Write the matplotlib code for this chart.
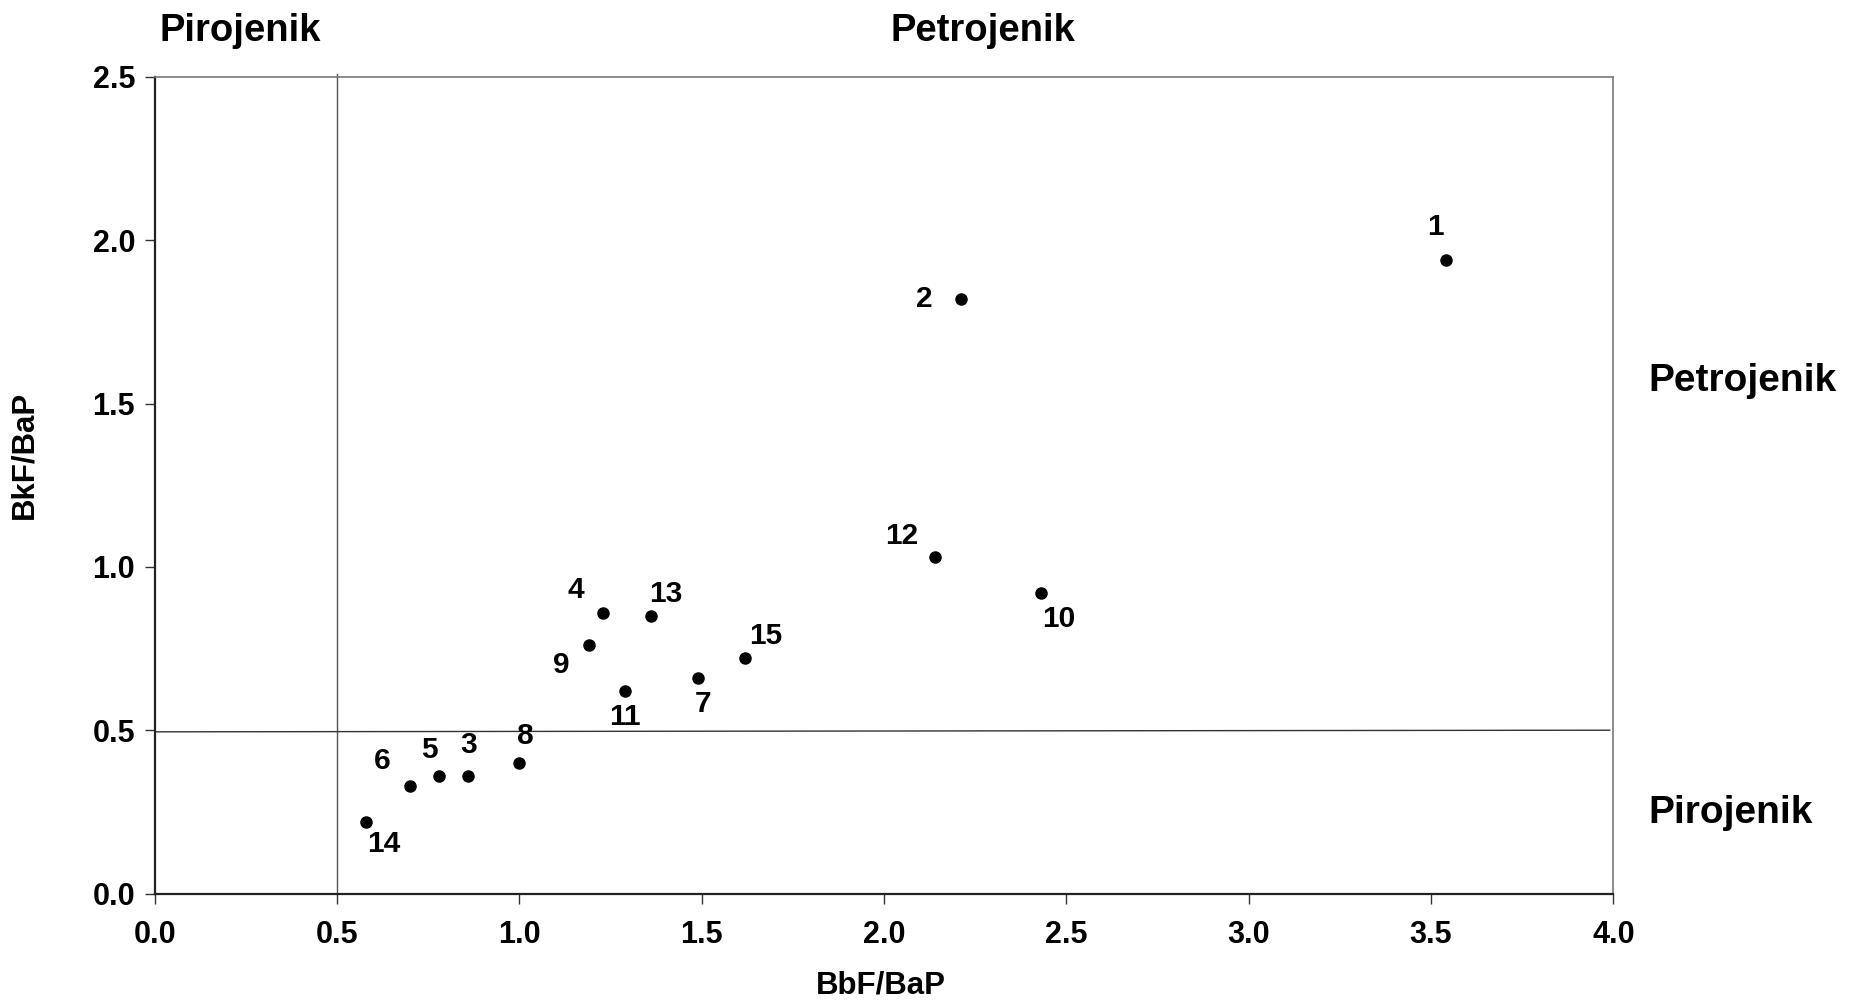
import matplotlib
matplotlib.use("Agg")
import matplotlib.pyplot as plt

# Sample ratios
sample_ids = ["1", "2", "3", "4", "5", "6", "7", "8", "9", "10", "11", "12", "13", "14", "15"]
bbf_bap = [3.54, 2.21, 0.86, 1.23, 0.78, 0.70, 1.49, 1.00, 1.19, 2.43, 1.29, 2.14, 1.36, 0.58, 1.62]
bkf_bap = [1.94, 1.82, 0.36, 0.86, 0.36, 0.33, 0.66, 0.40, 0.76, 0.92, 0.62, 1.03, 0.85, 0.22, 0.72]

# label offsets in points (dx, dy)
label_offsets = {
    "1": (-7, 24), "2": (-26, 0), "3": (0, 22), "4": (-20, 16), "5": (-7, 19),
    "6": (-20, 18), "7": (4, -19), "8": (4, 19), "9": (-20, -14), "10": (13, -19),
    "11": (0, -19), "12": (-24, 15), "13": (11, 16), "14": (13, -16), "15": (15, 16),
}

x_ticks = [0.0, 0.5, 1.0, 1.5, 2.0, 2.5, 3.0, 3.5, 4.0]
y_ticks = [0.0, 0.5, 1.0, 1.5, 2.0, 2.5]

narrow = ["Liberation Sans Narrow", "Liberation Sans", "DejaVu Sans"]
wide = ["Liberation Sans", "DejaVu Sans"]

fig = plt.figure(figsize=(18.63, 10.0), dpi=100)
ax = fig.add_axes([0.083, 0.1065, 0.783, 0.8165])

ax.set_xlim(0, 4.0)
ax.set_ylim(0, 2.5)

# threshold lines
ax.plot([0.5, 0.5], [0, 2.51], color="#555555", lw=1.0, clip_on=False, zorder=1)
ax.plot([0, 3.99], [0.495, 0.5], color="#333333", lw=1.0, zorder=1)

ax.scatter(bbf_bap, bkf_bap, s=64, color="black", zorder=3)

for sid, x, y in zip(sample_ids, bbf_bap, bkf_bap):
    dx, dy = label_offsets[sid]
    ax.annotate(sid, (x, y), xytext=(dx, dy), textcoords="offset points",
                ha="center", va="center", fontsize=21.5, fontweight="bold",
                family=wide)

ax.set_xticks(x_ticks)
ax.set_yticks(y_ticks)
ax.set_xticklabels([f"{v:.1f}" for v in x_ticks], family=narrow, fontsize=22, fontweight="bold")
ax.set_yticklabels([f"{v:.1f}" for v in y_ticks], family=narrow, fontsize=22, fontweight="bold")
ax.tick_params(direction="out", length=7, width=1.0, color="#333333")
ax.tick_params(axis="x", pad=12)
ax.tick_params(axis="y", pad=7)

for side in ["left", "bottom"]:
    ax.spines[side].set_color("#222222")
    ax.spines[side].set_linewidth(1.6)
for side in ["top", "right"]:
    ax.spines[side].set_color("#777777")
    ax.spines[side].set_linewidth(1.2)

ax.set_xlabel("BbF/BaP", family=narrow, fontsize=22.5, fontweight="bold")
ax.set_ylabel("BkF/BaP", family=narrow, fontsize=22.5, fontweight="bold")
ax.xaxis.set_label_coords(0.498, -0.094)
ax.yaxis.set_label_coords(-0.079, 0.537)

# region names
ax.text(0.235, 2.64, "Pirojenik", ha="center", va="center", fontsize=27.5,
        fontweight="bold", family=narrow, clip_on=False)
ax.text(2.27, 2.64, "Petrojenik", ha="center", va="center", fontsize=27.5,
        fontweight="bold", family=narrow, clip_on=False)
ax.text(4.095, 1.57, "Petrojenik", ha="left", va="center", fontsize=28,
        fontweight="bold", family=wide, clip_on=False)
ax.text(4.095, 0.245, "Pirojenik", ha="left", va="center", fontsize=28,
        fontweight="bold", family=wide, clip_on=False)

fig.savefig("out.png", dpi=100, facecolor="white")
